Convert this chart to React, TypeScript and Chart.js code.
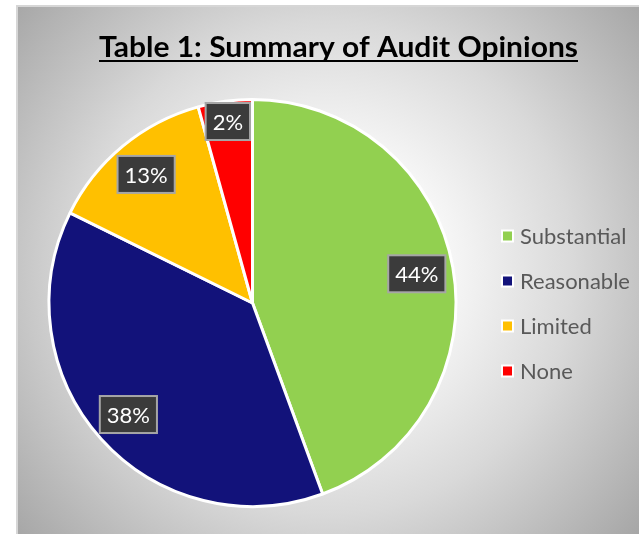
import React, { useEffect, useRef } from "react";
import { Chart, registerables } from "chart.js";

Chart.register(...registerables);

const categories = ["Substantial", "Reasonable", "Limited", "None"];
const values = [44.4, 37.9, 13.4, 4.3];
const dataLabels = ["44%", "38%", "13%", "2%"];
const colors = ["#92D050", "#12127A", "#FFC000", "#FF0000"];
const titleText = "Table 1: Summary of Audit Opinions";

const W = 639;
const H = 534;
const FONT = "Lato, 'Open Sans', sans-serif";
const labelRadiusFactor = [0.82, 0.82, 0.82, 0.9];

const backgroundPlugin = {
  id: "bgGradient",
  beforeDraw(chart: any) {
    const ctx = chart.ctx;
    ctx.save();
    ctx.fillStyle = "#ffffff";
    ctx.fillRect(0, 0, W, H);
    ctx.fillStyle = "#d6d6d6";
    ctx.fillRect(16, 5, W - 16, H - 5);
    const g = ctx.createRadialGradient(327, 268, 0, 327, 268, 410);
    g.addColorStop(0, "#ffffff");
    g.addColorStop(0.25, "#fbfbfb");
    g.addColorStop(0.6, "#d9d9d9");
    g.addColorStop(1, "#a6a6a6");
    ctx.fillStyle = g;
    ctx.fillRect(18, 7, W - 18, H - 7);
    ctx.restore();
  },
};

const titlePlugin = {
  id: "underlinedTitle",
  afterDraw(chart: any) {
    const ctx = chart.ctx;
    ctx.save();
    ctx.font = `bold 29px ${FONT}`;
    ctx.fillStyle = "#000000";
    ctx.textAlign = "center";
    ctx.textBaseline = "alphabetic";
    const cx = 338.5;
    const target = 479;
    const w0 = ctx.measureText(titleText).width;
    const sx = target / w0;
    ctx.translate(cx, 57);
    ctx.scale(sx, 1);
    ctx.fillText(titleText, 0, 0);
    ctx.fillRect(-w0 / 2, 3, w0, 2);
    ctx.restore();
  },
};

const dataLabelPlugin = {
  id: "boxLabels",
  afterDatasetsDraw(chart: any) {
    const ctx = chart.ctx;
    const meta = chart.getDatasetMeta(0);
    ctx.save();
    ctx.font = `22px ${FONT}`;
    ctx.textAlign = "center";
    ctx.textBaseline = "middle";
    meta.data.forEach((arc: any, i: number) => {
      const p = arc.getProps(["x", "y", "startAngle", "endAngle", "outerRadius"], true);
      const mid = (p.startAngle + p.endAngle) / 2;
      const r = p.outerRadius * labelRadiusFactor[i];
      const lx = p.x + Math.cos(mid) * r;
      const ly = p.y + Math.sin(mid) * r;
      const text = dataLabels[i];
      const tw = ctx.measureText(text).width;
      const bw = tw + 14;
      const bh = 37;
      ctx.fillStyle = "#3b3b3b";
      ctx.fillRect(lx - bw / 2, ly - bh / 2, bw, bh);
      ctx.strokeStyle = "#a6a6a6";
      ctx.lineWidth = 2;
      ctx.strokeRect(lx - bw / 2, ly - bh / 2, bw, bh);
      ctx.fillStyle = "#ffffff";
      ctx.fillText(text, lx, ly + 1);
    });
    ctx.restore();
  },
};

const legendPlugin = {
  id: "sideLegend",
  afterDraw(chart: any) {
    const ctx = chart.ctx;
    const labels = chart.data.labels as string[];
    const bg = chart.data.datasets[0].backgroundColor as string[];
    ctx.save();
    ctx.font = `22px ${FONT}`;
    ctx.textAlign = "left";
    ctx.textBaseline = "middle";
    labels.forEach((lab, i) => {
      const cy = 236 + i * 45;
      ctx.fillStyle = "#ffffff";
      ctx.fillRect(501, cy - 6.5, 13, 13);
      ctx.fillStyle = bg[i];
      ctx.fillRect(503, cy - 4.5, 9, 9);
      ctx.fillStyle = "#595959";
      ctx.fillText(lab, 520, cy + 1);
    });
    ctx.restore();
  },
};

export default function App() {
  const ref = useRef<HTMLCanvasElement | null>(null);
  useEffect(() => {
    if (!ref.current) return;
    const chart = new Chart(ref.current, {
      type: "pie",
      data: {
        labels: categories,
        datasets: [
          {
            data: values,
            backgroundColor: colors,
            borderColor: "#ffffff",
            borderWidth: 3,
          },
        ],
      },
      options: {
        responsive: false,
        animation: false,
        layout: { padding: { left: 47.5, right: 181.5, top: 98, bottom: 26 } },
        plugins: {
          legend: { display: false },
          title: { display: false },
          tooltip: { enabled: false },
        },
      },
      plugins: [backgroundPlugin, titlePlugin, dataLabelPlugin, legendPlugin],
    });
    return () => chart.destroy();
  }, []);
  return (
    <div style={{ position: "fixed", left: 0, top: 0, width: W, height: H }}>
      <canvas ref={ref} width={W} height={H} style={{ display: "block", width: W, height: H }} />
    </div>
  );
}
